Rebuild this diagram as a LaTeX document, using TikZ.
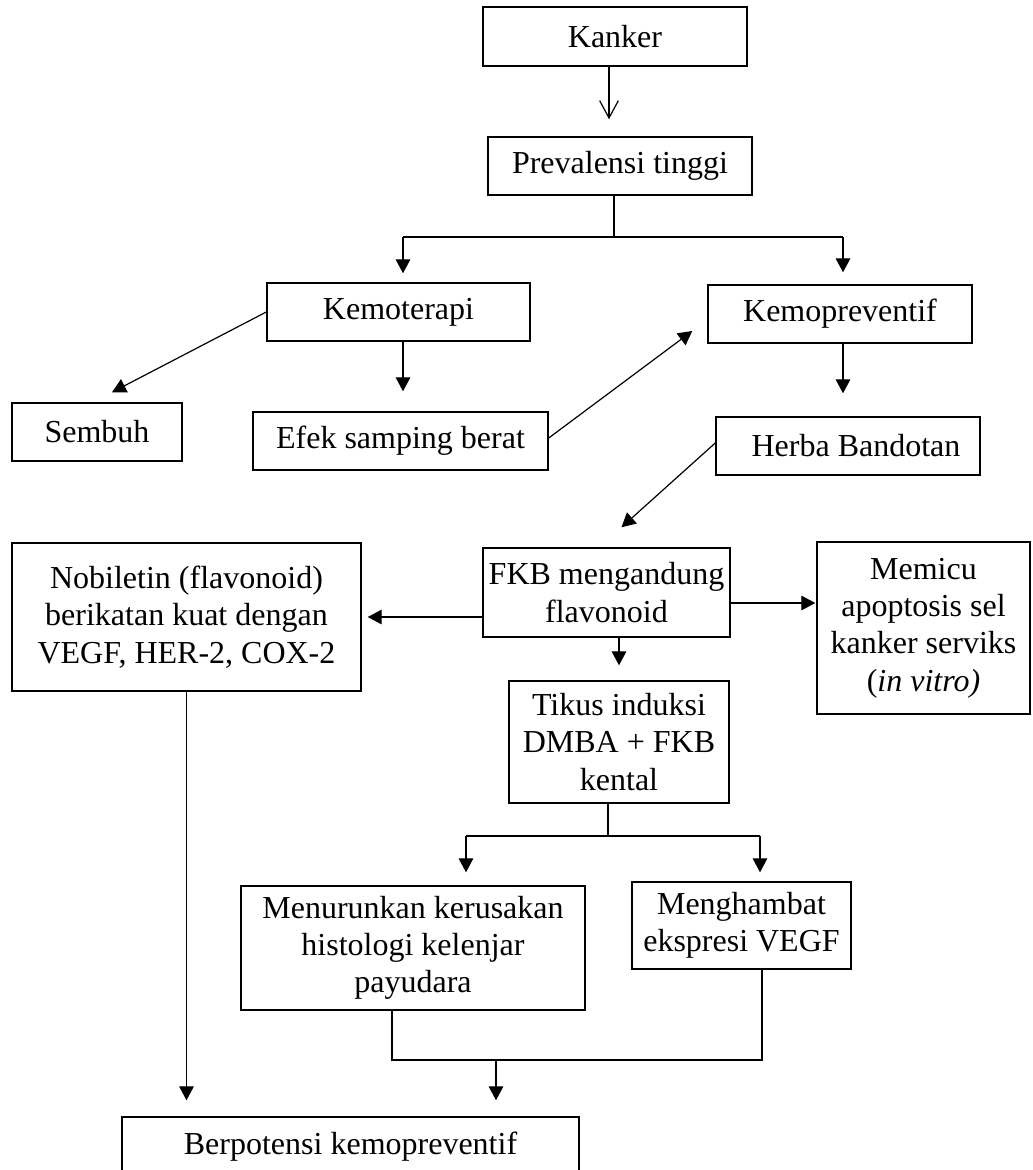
\documentclass[tikz,border=0pt]{standalone}
\usepackage{fontspec}
\setmainfont{Liberation Serif}
\usetikzlibrary{arrows.meta,calc}

\tikzset{every picture/.style={line width=0.9pt}}

\begin{document}
\begin{tikzpicture}[
            x=0.75pt,
            y=0.75pt,
            yscale=-1,
            xscale=1,
            every node/.style={text=black, font=\fontsize{24}{28}\selectfont},
            kotak/.style={draw=black, line width=1.1pt, rectangle, inner sep=0pt, align=center},
            panah/.style={-{Triangle[length=10.5pt,width=11pt]}},
            panahbuka/.style={-{Straight Barb[length=13pt,width=14pt]}},
            line width=0.9pt
        ]
            \useasboundingbox (0,0) rectangle (1032,1170);

            \node[kotak, minimum width=198pt, minimum height=44.25pt] (kanker) at (615,36.5) {Kanker};
            \node[kotak, minimum width=198pt, minimum height=43.5pt] (prevalensi) at (620,166) {Prevalensi tinggi};
            \node[kotak, minimum width=197.25pt, minimum height=43.5pt] (kemoterapi) at (398.5,312) {Kemoterapi};
            \node[kotak, minimum width=198pt, minimum height=43.5pt] (kemopreventif) at (840,314) {Kemopreventif};
            \node[kotak, minimum width=127.5pt, minimum height=43.5pt] (sembuh) at (97,432) {Sembuh};
            \node[kotak, minimum width=221.25pt, minimum height=43.5pt] (efek) at (400.5,441) {Efek samping berat};
            \node[kotak, minimum width=198pt, minimum height=43.5pt] (herba) at (848,446) {\hspace{12pt}Herba Bandotan};
            \node[kotak, minimum width=185.25pt, minimum height=66.75pt] (fkb) at (606.5,592.5) {FKB mengandung\\flavonoid};
            \node[kotak, minimum width=261.75pt, minimum height=111pt] (nobiletin) at (186.5,617) {Nobiletin (flavonoid)\\berikatan kuat dengan\\VEGF, HER-2, COX-2};
            \node[kotak, minimum width=159.75pt, minimum height=129pt] (memicu) at (923.5,628) {Memicu\\apoptosis sel\\kanker serviks\\(\textit{in vitro)}};
            \node[kotak, minimum width=165pt, minimum height=91.5pt] (tikus) at (619,742) {Tikus induksi\\DMBA + FKB\\kental};
            \node[kotak, minimum width=258pt, minimum height=93pt] (menurunkan) at (413,948) {Menurunkan kerusakan\\histologi kelenjar\\payudara};
            \node[kotak, minimum width=164.25pt, minimum height=65.25pt] (menghambat) at (741.5,925.5) {Menghambat\\ekspresi VEGF};
            \node[kotak, minimum width=342.75pt, minimum height=45pt] (berpotensi) at (350.5,1147) {Berpotensi kemopreventif};

            \coordinate (cabang1) at (614,237);
            \coordinate (ki1) at (403,237);
            \coordinate (ka1) at (843,237);
            \coordinate (cabang2) at (608,836);
            \coordinate (ki2) at (466,836);
            \coordinate (ka2) at (760,836);
            \coordinate (ki3) at (392,1060);
            \coordinate (ka3) at (762,1060);
            \coordinate (gabung) at (496,1060);

            \draw [panahbuka] ($(kanker.south)+(-6,0)$) -- ($(prevalensi.north)+(-11,-17)$);
            \draw (cabang1 |- prevalensi.south) -- (cabang1);
            \draw (ki1) -- (ka1);
            \draw [panah, shorten >=6.75pt] (ki1) -- (ki1 |- kemoterapi.north);
            \draw [panah, shorten >=9pt] (ka1) -- (ka1 |- kemopreventif.north);
            \draw [panah] (kemoterapi.west) -- ($(sembuh.north)+(15,-10)$);
            \draw [panah, shorten >=15pt] (ki1 |- kemoterapi.south) -- (ki1 |- efek.north);
            \draw [panah] ($(efek.east)+(0,-3)$) -- ($(kemopreventif.west)+(-15,17)$);
            \draw [panah, shorten >=17.25pt] (ka1 |- kemopreventif.south) -- (ka1 |- herba.north);
            \draw [panah] ($(herba.west)+(0,-3)$) -- ($(fkb.north)+(15,-20)$);
            \draw [panah, shorten >=4.5pt] (fkb.west |- nobiletin.east) -- (nobiletin.east);
            \draw [panah] ($(fkb.east)+(0,10.5)$) -- ($(memicu.west)+(-1,-25)$);
            \draw [panah, shorten >=11.25pt] (tikus.north |- fkb.south) -- (tikus.north);
            \draw (cabang2 |- tikus.south) -- (cabang2);
            \draw (ki2) -- (ka2);
            \draw [panah, shorten >=9.75pt] (ki2) -- (ki2 |- menurunkan.north);
            \draw [panah, shorten >=6.75pt] (ka2) -- (ka2 |- menghambat.north);
            \draw (ki3 |- menurunkan.south) -- (ki3) -- (ka3) -- (ka3 |- menghambat.south);
            \draw [panah, shorten >=12pt] (gabung) -- (gabung |- berpotensi.north);
            \draw [panah, shorten >=12pt] (nobiletin.south) -- (nobiletin.south |- berpotensi.north);
        \end{tikzpicture}
\end{document}
